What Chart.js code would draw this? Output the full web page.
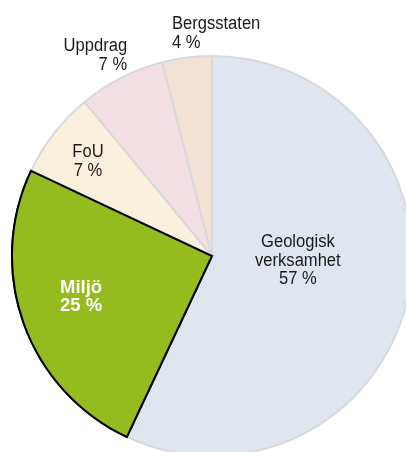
<!DOCTYPE html>
<html lang="sv">
<head>
    <meta charset="UTF-8">
    <title>Fördelning</title>
    <style>
        html, body {
            margin: 0;
            padding: 0;
            background: #fff;
            width: 406px;
            height: 452px;
            overflow: hidden;
        }
        /* pie is a bit bigger than the window, clipped right and bottom */
        .pie-wrap {
            position: absolute;
            left: 11px;
            top: 0;
            width: 402px;
            height: 457px;
        }
    </style>
</head>
<body>
    <div class="pie-wrap"><canvas id="pieChart"></canvas></div>

    <script src="https://cdn.jsdelivr.net/npm/chart.js"></script>
    <script>
        // Data
        const categories = ['Geologisk verksamhet', 'Miljö', 'FoU', 'Uppdrag', 'Bergsstaten'];
        const shares = [57, 25, 7, 7, 4];

        // Look
        const fills = ['#dfe6f0', '#95bb1f', '#f9f1dc', '#f2dfe4', '#f1e2d6'];
        const edges = ['#d9d9d9', '#000000', '#d9d9d9', '#d9d9d9', '#d9d9d9'];
        const highlight = 1; // Miljö gets its black outline drawn on top

        // label placement: radius factor from the arc middle, then a nudge
        const labelStyle = [
            { f: 0.44,  dx: 0,   dy: -16, align: 'center', color: '#1a1a1a', bold: false },
            { f: 0.685, dx: -2,  dy: -7,  align: 'center', color: '#ffffff', bold: true },
            { f: 0.785, dx: 0,   dy: 0,   align: 'center', color: '#1a1a1a', bold: false },
            { f: 1.1,   dx: 15,  dy: -6,  align: 'right',  color: '#1a1a1a', bold: false },
            { f: 1.12,  dx: -12, dy: -2,  align: 'left',   color: '#1a1a1a', bold: false }
        ];

        const sliceLabels = {
            id: 'sliceLabels',
            afterDatasetsDraw(chart) {
                const ctx = chart.ctx;
                const meta = chart.getDatasetMeta(0);

                // redraw the outlined slice so neighbours don't paint over its border
                meta.data[highlight].draw(ctx);

                meta.data.forEach((arc, i) => {
                    const p = arc.getProps(['x', 'y', 'startAngle', 'endAngle', 'outerRadius'], true);
                    const mid = (p.startAngle + p.endAngle) / 2;
                    const s = labelStyle[i];
                    const cx = p.x + Math.cos(mid) * p.outerRadius * s.f + s.dx;
                    const cy = p.y + Math.sin(mid) * p.outerRadius * s.f + s.dy;

                    const lines = categories[i].split(' ').concat([shares[i] + ' %']);
                    const lh = 18.5;
                    const capH = 13;
                    const first = cy - (lines.length - 1) / 2 * lh + capH / 2;
                    const sx = s.bold ? 1.0 : 0.92;

                    ctx.save();
                    ctx.fillStyle = s.color;
                    ctx.font = (s.bold ? 'bold 18.5px ' : '18px ') + '"Liberation Sans", Arial, sans-serif';
                    ctx.textAlign = s.align;
                    ctx.textBaseline = 'alphabetic';
                    lines.forEach((t, k) => {
                        ctx.save();
                        ctx.translate(cx, first + k * lh);
                        ctx.scale(sx, 1);
                        ctx.fillText(t, 0, 0);
                        ctx.restore();
                    });
                    ctx.restore();
                });
            }
        };

        const ctx = document.getElementById('pieChart').getContext('2d');
        const pieChart = new Chart(ctx, {
            type: 'pie',
            data: {
                labels: categories,
                datasets: [{
                    data: shares,
                    backgroundColor: fills,
                    borderColor: edges,
                    borderWidth: 2,
                    borderJoinStyle: 'miter'
                }]
            },
            options: {
                responsive: true,
                maintainAspectRatio: false,
                animation: false,
                layout: { padding: { top: 55, left: 0, right: 0, bottom: 0 } },
                plugins: {
                    legend: { display: false },
                    tooltip: { enabled: false }
                }
            },
            plugins: [sliceLabels]
        });
    </script>
</body>
</html>
